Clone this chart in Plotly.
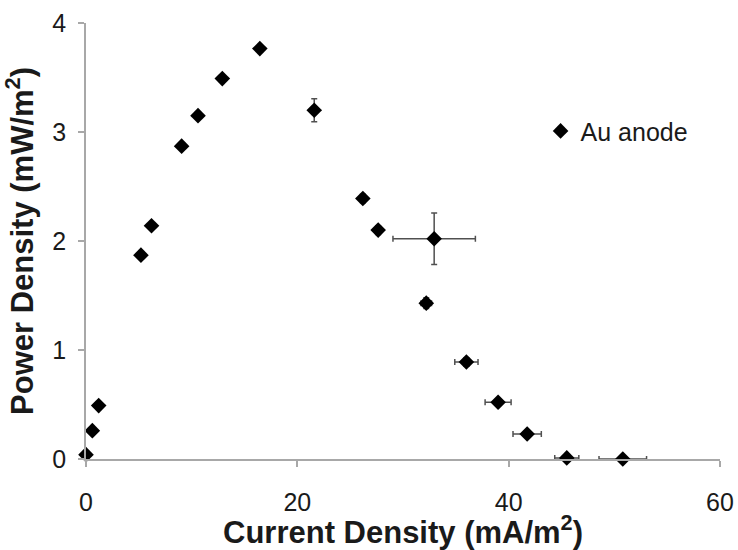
import plotly.graph_objects as go

# Power density curve for the gold anode (mean values with standard deviations)
current_density = [0.0, 0.6, 1.2, 5.2, 6.2, 9.05, 10.6, 12.9, 16.45, 21.6,
                   26.2, 27.65, 32.2, 32.95, 36.0, 39.0, 41.75, 45.5, 50.8]
power_density = [0.04, 0.26, 0.49, 1.87, 2.14, 2.87, 3.15, 3.49, 3.765, 3.2,
                 2.39, 2.10, 1.43, 2.02, 0.89, 0.52, 0.23, 0.01, 0.0]
current_err = [0, 0, 0, 0, 0, 0, 0, 0, 0, 0,
               0.3, 0.3, 0.5, 3.9, 1.1, 1.23, 1.34, 1.14, 2.25]
power_err = [0, 0, 0, 0, 0, 0, 0, 0, 0, 0.105,
             0.04, 0.04, 0.05, 0.236, 0.04, 0.03, 0.03, 0.02, 0.02]

series_name = "Au anode"
x_ticks = [0, 20, 40, 60]
y_ticks = [0, 1, 2, 3, 4]

FONT = "Arial, Liberation Sans, Helvetica, sans-serif"
AXIS_GREY = "#a8a8a8"
ERR_GREY = "#505050"
TEXT = "#1a1a1a"

fig = go.Figure()
fig.add_trace(go.Scatter(
    x=current_density,
    y=power_density,
    mode="markers",
    name=series_name,
    marker=dict(symbol="diamond", size=12, color="black"),
    error_x=dict(type="data", array=current_err, visible=True,
                 color=ERR_GREY, thickness=1.5, width=3),
    error_y=dict(type="data", array=power_err, visible=True,
                 color=ERR_GREY, thickness=1.5, width=3),
    cliponaxis=False,
))

fig.update_layout(
    width=738,
    height=550,
    margin=dict(l=86, r=18, t=23, b=91),
    paper_bgcolor="white",
    plot_bgcolor="white",
    font=dict(family=FONT, color=TEXT),
    showlegend=True,
    legend=dict(
        x=0.717, y=0.752, xanchor="left", yanchor="middle",
        font=dict(size=25, color=TEXT),
        bgcolor="rgba(0,0,0,0)",
    ),
)

fig.update_xaxes(
    range=[0, 60],
    tickvals=x_ticks,
    automargin=False,
    showgrid=False,
    zeroline=False,
    showline=True,
    linecolor=AXIS_GREY,
    linewidth=1.5,
    ticks="outside",
    ticklen=6,
    tickcolor=AXIS_GREY,
    tickwidth=1.5,
    tickfont=dict(size=25, color=TEXT),
    ticklabelstandoff=14,
    title=dict(text="<b>Current Density (mA/m<sup>2</sup>)</b>",
               font=dict(size=31, color=TEXT), standoff=6),
)

fig.update_yaxes(
    range=[0, 4],
    tickvals=y_ticks,
    automargin=False,
    showgrid=False,
    zeroline=False,
    showline=True,
    linecolor=AXIS_GREY,
    linewidth=1.5,
    ticks="outside",
    ticklen=6,
    tickcolor=AXIS_GREY,
    tickwidth=1.5,
    tickfont=dict(size=25, color=TEXT),
    ticklabelstandoff=7,
    title=dict(text="<b>Power Density (mW/m<sup>2</sup>)</b>",
               font=dict(size=31, color=TEXT), standoff=9),
)

fig.write_html("out.html")
